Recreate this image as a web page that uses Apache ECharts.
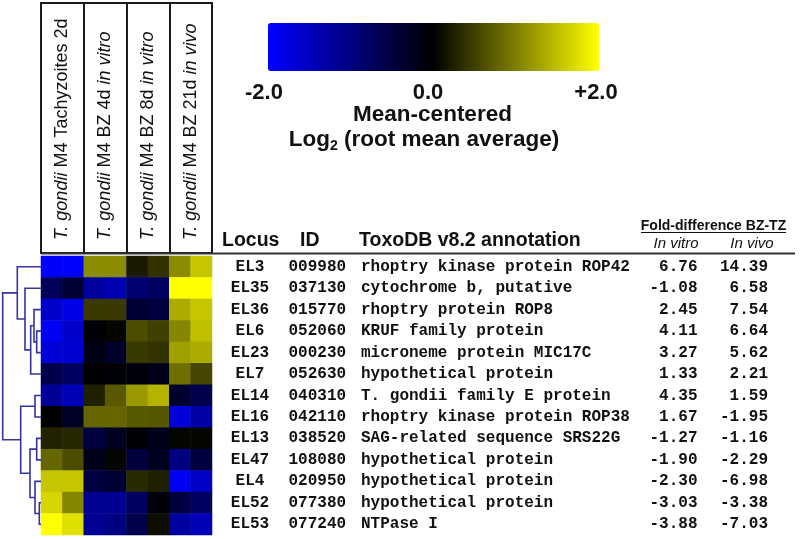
<!DOCTYPE html>
<html><head><meta charset="utf-8">
<script src="https://cdn.jsdelivr.net/npm/echarts@6/dist/echarts.min.js"></script>
<style>html,body{margin:0;padding:0;background:#fff}#c{width:800px;height:539px}</style>
</head><body><div id="c"></div>
<script>
// ---------- data ----------
const conditionLabels = [
  '{i|T. gondii} M4 Tachyzoites 2d',
  '{i|T. gondii} M4 BZ 4d {i|in vitro}',
  '{i|T. gondii} M4 BZ 8d {i|in vitro}',
  '{i|T. gondii} M4 BZ 21d {i|in vivo}'
];
const sampleColumns = ['TZ2d-a','TZ2d-b','BZ4d-a','BZ4d-b','BZ8d-a','BZ8d-b','BZ21d-a','BZ21d-b'];
const loci = ['EL3','EL35','EL36','EL6','EL23','EL7','EL14','EL16','EL13','EL47','EL4','EL52','EL53'];
const geneIds = ['009980','037130','015770','052060','000230','052630','040310','042110','038520','108080','020950','077380','077240'];
const annotations = ['rhoptry kinase protein ROP42','cytochrome b, putative','rhoptry protein ROP8','KRUF family protein',
  'microneme protein MIC17C','hypothetical protein','T. gondii family E protein','rhoptry kinase protein ROP38',
  'SAG-related sequence SRS22G','hypothetical protein','hypothetical protein','hypothetical protein','NTPase I'];
const foldInVitro = [6.76,-1.08,2.45,4.11,3.27,1.33,4.35,1.67,-1.27,-1.90,-2.30,-3.03,-3.88];
const foldInVivo  = [14.39,6.58,7.54,6.64,5.62,2.21,1.59,-1.95,-1.16,-2.29,-6.98,-3.38,-7.03];
// mean-centered log2 values, one row per locus, one entry per sample column
const expression = [
  [-2.0,-2.0, 1.10, 1.10, 0.20, 0.40, 1.10, 1.55],
  [-0.70,-0.40,-1.25,-1.40,-0.90,-0.75, 2.0, 2.0],
  [-1.60,-1.80, 0.45, 0.45,-0.40,-0.50, 1.35, 1.55],
  [-1.90,-1.60,-0.05, 0.05, 0.60, 0.50, 1.05, 1.50],
  [-1.70,-1.65,-0.15,-0.35, 0.45, 0.40, 1.25, 1.35],
  [-0.60,-0.75, 0.0,-0.05,-0.10,-0.20, 0.88, 0.55],
  [-1.20,-1.45, 0.25, 0.70, 1.20, 1.40,-0.35,-0.60],
  [ 0.0,-0.30, 0.80, 0.80, 0.70, 0.68,-1.70,-1.30],
  [ 0.27, 0.30,-0.50,-0.25,-0.05,-0.20, 0.05, 0.05],
  [ 0.80, 0.60,-0.20, 0.05,-0.50,-0.25,-1.00,-0.50],
  [ 1.55, 1.55,-0.50,-0.40, 0.33, 0.25,-1.90,-1.55],
  [ 1.68, 1.05,-1.15,-1.15,-0.75,-0.10,-0.50,-0.75],
  [ 2.0, 1.75,-1.15,-1.00,-0.60, 0.10,-1.25,-1.45]
];
// hierarchical clustering merges: [childA, childB, height]; number = leaf row, 'nK' = merge K
const dendroMerges = [
  [3, 4, 4.3], [2, 'n0', 7], ['n1', 5, 10.3], [1, 'n2', 16], [0, 'n3', 23.7],
  [6, 7, 6], [8, 9, 4.3], [11, 12, 1.7], [10, 'n7', 6], ['n6', 'n8', 11], ['n5', 'n9', 20.3],
  ['n4', 'n10', 38.3]
];
const scaleTicks = ['-2.0', '0.0', '+2.0'];

// ---------- build ----------
const heatData = [];
expression.forEach((row, r) => row.forEach((v, c) => heatData.push([c, r, v])));

const nodeY = {}, nodeH = {};
function nodePos(ch) { return typeof ch === 'number' ? [0, ch + 0.5] : [nodeH[ch], nodeY[ch]]; }
const dendroLines = dendroMerges.map((m, k) => {
  const a = nodePos(m[0]), b = nodePos(m[1]), H = m[2];
  nodeY['n' + k] = (a[1] + b[1]) / 2; nodeH['n' + k] = H;
  return { coords: [[a[0], a[1]], [H, a[1]], [H, b[1]], [b[0], b[1]]] };
});

const SANS = '"Liberation Sans", Arial, sans-serif';
const MONO = '"Liberation Mono", "Courier New", monospace';
const INK = '#111';

function txt(x, y, text, opt) {
  opt = opt || {};
  const st = Object.assign({ text: text, fill: INK, fontFamily: SANS, fontSize: 16, fontWeight: 'normal',
    align: 'left', verticalAlign: 'middle' }, opt);
  st.textAlign = st.align; st.textVerticalAlign = st.verticalAlign;
  return { type: 'text', x: x, y: y, silent: true, style: st };
}

const chart = echarts.init(document.getElementById('c'));
chart.setOption({
  animation: false,
  backgroundColor: '#fff',
  grid: [
    { left: 41, top: 256, width: 171, height: 279 },
    { left: 0, top: 256, width: 41, height: 279 },
    { left: 41, top: 3, width: 171, height: 250, show: true, borderColor: '#1a1a1a', borderWidth: 2, backgroundColor: 'transparent' }
  ],
  xAxis: [
    { type: 'category', gridIndex: 0, data: sampleColumns, show: false },
    { type: 'value', gridIndex: 1, min: 0, max: 41, inverse: true, show: false },
    { type: 'category', gridIndex: 2, data: conditionLabels, position: 'bottom',
      axisLine: { show: false }, axisTick: { show: false },
      splitLine: { show: true, interval: 0, lineStyle: { color: '#1a1a1a', width: 2 } },
      axisLabel: { show: true, interval: 0, inside: true, rotate: 90, margin: 13,
        fontFamily: SANS, fontSize: 18, color: INK,
        formatter: v => v,
        rich: { i: { fontStyle: 'italic', fontFamily: SANS, fontSize: 18, color: INK } } } }
  ],
  yAxis: [
    { type: 'category', gridIndex: 0, data: loci, inverse: true, show: false },
    { type: 'value', gridIndex: 1, min: 0, max: 13, inverse: true, show: false },
    { type: 'value', gridIndex: 2, min: 0, max: 1, show: false }
  ],
  visualMap: {
    type: 'continuous', seriesIndex: 0, dimension: 2, min: -2, max: 2,
    orient: 'horizontal', left: 268, top: 23, itemWidth: 48, itemHeight: 331,
    padding: 0, calculable: false, hoverLink: false, realtime: false,
    inRange: { color: ['#0000ff', '#000000', '#ffff00'] }
  },
  series: [
    { type: 'heatmap', xAxisIndex: 0, yAxisIndex: 0, data: heatData, silent: true,
      itemStyle: { borderWidth: 0 }, emphasis: { disabled: true } },
    { type: 'lines', coordinateSystem: 'cartesian2d', xAxisIndex: 1, yAxisIndex: 1, polyline: true,
      silent: true, data: dendroLines,
      lineStyle: { color: '#34349c', width: 1.6, opacity: 1 } },
    { type: 'custom', xAxisIndex: 0, yAxisIndex: 0, silent: true, z: 10,
      data: loci.map((_, i) => [0, i]),
      renderItem: (params, api) => {
        const r = api.value(1);
        const y = api.coord([0, r])[1];
        const f = { fontFamily: MONO, fontSize: 16, fontWeight: 'bold' };
        return { type: 'group', children: [
          txt(250, y, loci[r], Object.assign({ align: 'center' }, f)),
          txt(288.5, y, geneIds[r], f),
          txt(361, y, annotations[r], f),
          txt(697.5, y, foldInVitro[r].toFixed(2), Object.assign({ align: 'right' }, f)),
          txt(768, y, foldInVivo[r].toFixed(2), Object.assign({ align: 'right' }, f))
        ] };
      } }
  ],
  graphic: [
    txt(264, 92.5, scaleTicks[0], { align: 'center', fontSize: 22, fontWeight: 'bold' }),
    txt(428, 92.5, scaleTicks[1], { align: 'center', fontSize: 22, fontWeight: 'bold' }),
    txt(596, 92.5, scaleTicks[2], { align: 'center', fontSize: 22, fontWeight: 'bold' }),
    txt(432.5, 115, 'Mean-centered', { align: 'center', fontSize: 22.5, fontWeight: 'bold' }),
    { type: 'text', x: 424, y: 140, silent: true, style: {
        text: '{b|Log}{s|2}{b| (root mean average)}', align: 'center', verticalAlign: 'middle',
        textAlign: 'center', textVerticalAlign: 'middle',
        rich: { b: { fontFamily: SANS, fontSize: 22.5, fontWeight: 'bold', fill: INK, lineHeight: 26, verticalAlign: 'middle' },
                s: { fontFamily: SANS, fontSize: 14, fontWeight: 'bold', fill: INK, lineHeight: 14, verticalAlign: 'bottom' } } } },
    txt(222, 240.7, 'Locus', { fontSize: 19.5, fontWeight: 'bold' }),
    txt(300, 240.7, 'ID', { fontSize: 19.5, fontWeight: 'bold' }),
    txt(359, 240.7, 'ToxoDB v8.2 annotation', { fontSize: 19.5, fontWeight: 'bold' }),
    txt(713.5, 226.5, 'Fold-difference BZ-TZ', { align: 'center', fontSize: 14, fontWeight: 'bold' }),
    { type: 'line', silent: true, shape: { x1: 641, y1: 232.5, x2: 786, y2: 232.5 }, style: { stroke: INK, lineWidth: 1.2 } },
    txt(676, 243.5, 'In vitro', { align: 'center', fontSize: 15, fontStyle: 'italic' }),
    txt(752, 243.5, 'In vivo', { align: 'center', fontSize: 15, fontStyle: 'italic' }),
    { type: 'line', silent: true, shape: { x1: 41, y1: 253.5, x2: 795, y2: 253.5 }, style: { stroke: '#333', lineWidth: 2 } }
  ]
});
</script></body></html>
